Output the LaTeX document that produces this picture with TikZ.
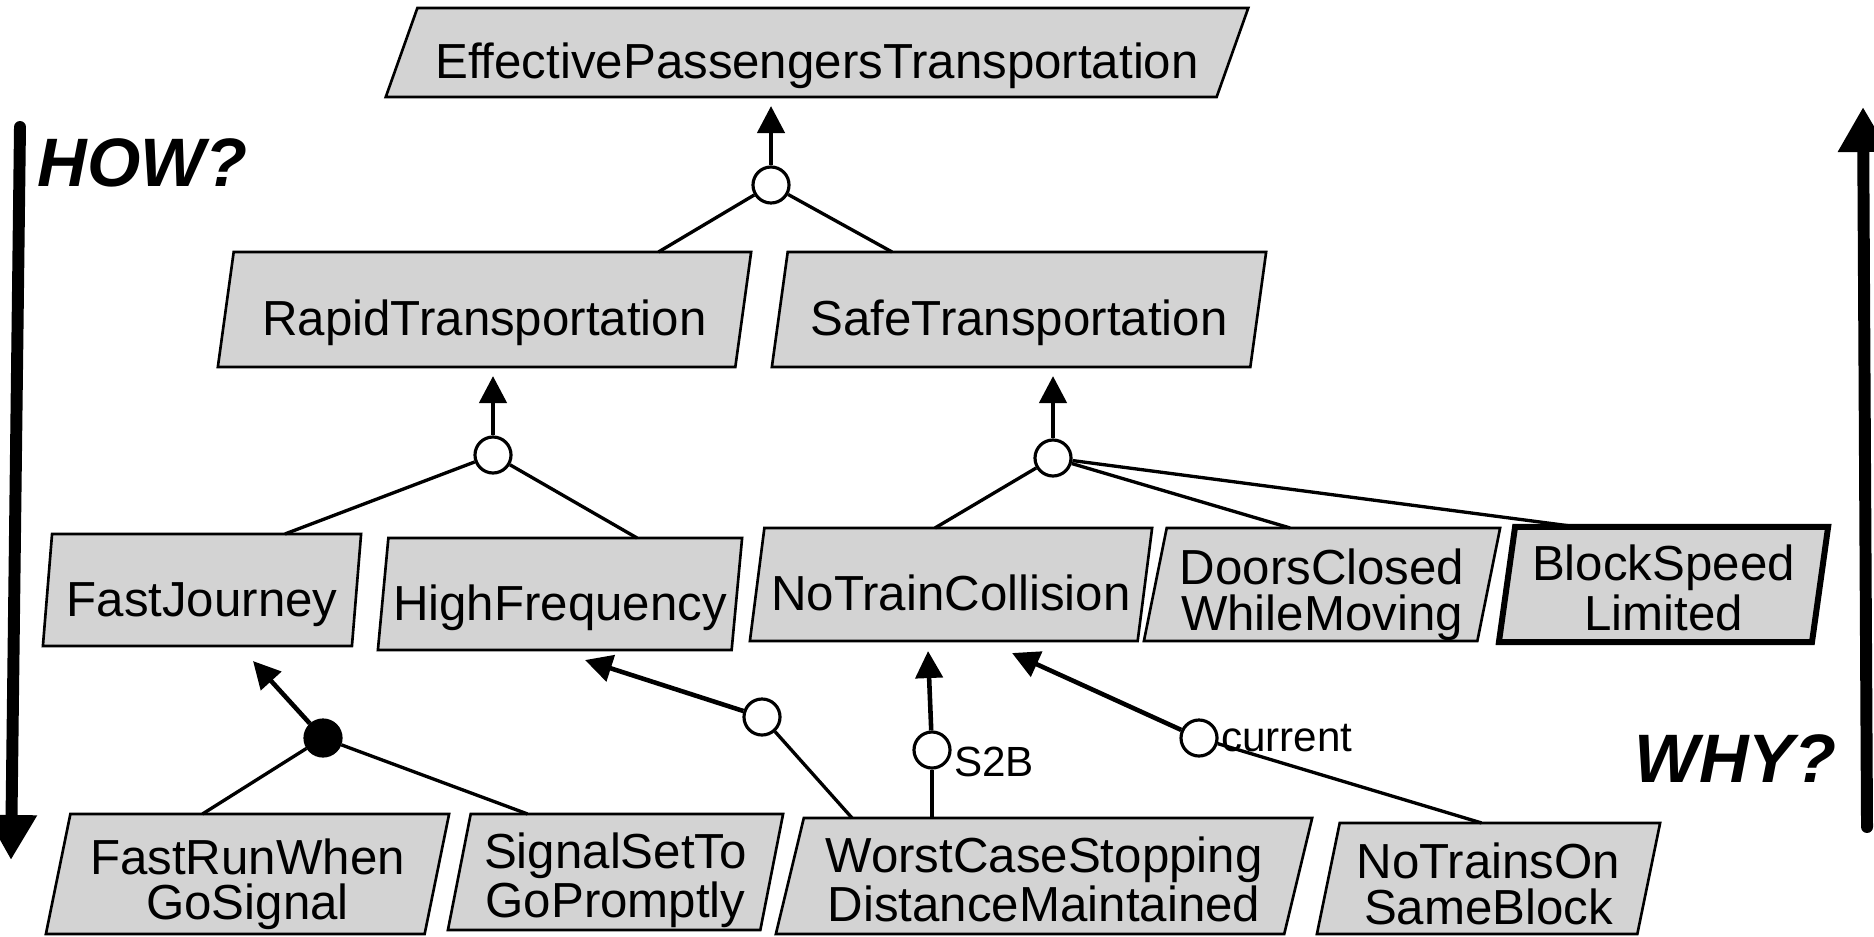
\documentclass[tikz,border=0pt]{standalone}
\usepackage{fontspec}
\setmainfont{Liberation Sans}
\usepackage{tikz}
\usetikzlibrary{arrows.meta, positioning, shapes.geometric, calc}
\usepackage{xcolor}
\definecolor{goalgray}{RGB}{211,211,211}

\begin{document}
\begin{tikzpicture}[x=0.01cm, y=-0.01cm,
   every node/.style={font=\fontsize{14}{13}\selectfont},
   goal/.style={trapezium, trapezium stretches body=true, draw, fill=goalgray,
                line width=0.75pt, inner sep=0pt, outer sep=0pt, align=center,
                text height=18pt, text depth=3.2pt},
   twolines/.style={text height=26pt, text depth=0pt},
   lean/.style={trapezium left angle=#1, trapezium right angle=180-#1},
   orgate/.style={circle, draw, fill=white, line width=0.9pt,
                  minimum size=0.36cm, inner sep=0pt},
   andgate/.style={orgate, fill=black},
   link/.style={line width=0.95pt},
   stem/.style={line width=1.3pt, -{Triangle[length=0.27cm, width=0.27cm]},
                shorten >=0.09cm},
   tag/.style={font=\fontsize{12}{12}\selectfont, inner sep=0.5pt},
   big/.style={font=\fontsize{19.5}{20}\selectfont\bfseries\itshape, inner sep=0pt},
   side/.style={line width=3.4pt, line cap=round,
                -{Triangle[length=0.45cm, width=0.48cm]}}]
  \useasboundingbox (0,0) rectangle (1874,937);
  \clip (0,0) rectangle (1874,937);

  \node[goal, lean=67, minimum width=8.62cm, minimum height=0.89cm] (EPT)
       at (817,52.5) {EffectivePassengersTransportation};
  \node[goal, lean=78, minimum width=5.33cm, minimum height=1.15cm] (RT)
       at (484.5,309.5) {RapidTransportation};
  \node[goal, lean=78, minimum width=4.94cm, minimum height=1.15cm] (ST)
       at (1019,309.5) {SafeTransportation};

  \node[goal, lean=83, minimum width=3.18cm, minimum height=1.12cm] (FJ)
       at (202,590) {FastJourney};
  \node[goal, lean=82, minimum width=3.64cm, minimum height=1.12cm] (HF)
       at (560,594) {HighFrequency};
  \node[goal, lean=79, minimum width=4.02cm, minimum height=1.13cm] (NTC)
       at (951,584.5) {NoTrainCollision};
  \node[goal, twolines, lean=76, minimum width=3.56cm, minimum height=1.13cm] (DCWM)
       at (1322,584.5) {DoorsClosed\\WhileMoving};
  \node[goal, twolines, lean=80, line width=1.7pt, minimum width=3.29cm,
        minimum height=1.15cm] (BSL)
       at (1663.5,584.5) {BlockSpeed\\Limited};

  \node[goal, twolines, lean=75, minimum width=4.03cm, minimum height=1.2cm] (FRWG)
       at (247.5,874) {FastRunWhen\\GoSignal};
  \node[goal, twolines, lean=76, minimum width=3.35cm, minimum height=1.16cm] (SSTGP)
       at (615.5,872) {SignalSetTo\\GoPromptly};
  \node[goal, twolines, lean=73, minimum width=5.36cm, minimum height=1.16cm] (WCSDM)
       at (1044,876) {WorstCaseStopping\\DistanceMaintained};
  \node[goal, twolines, lean=76, minimum width=3.43cm, minimum height=1.11cm] (NTOSB)
       at (1488.5,878.5) {NoTrainsOn\\SameBlock};

  \node[orgate] (orEPT) at (771,185) {};
  \draw[stem] (orEPT) -- (orEPT |- EPT.south);
  \draw[link] ($(RT.center |- RT.north)+(174,0)$) -- (orEPT);
  \draw[link] ($(ST.center |- ST.north)+(-127,0)$) -- (orEPT);

  \node[orgate] (orRT) at (493,455) {};
  \draw[stem] (orRT) -- (orRT |- RT.south);
  \draw[link] ($(FJ.center |- FJ.north)+(83,0)$) -- (orRT);
  \draw[link] ($(HF.center |- HF.north)+(77,0)$) -- (orRT);

  \node[orgate] (orST) at (1053,458) {};
  \draw[stem] (orST) -- (orST |- ST.south);
  \draw[link] ($(NTC.center |- NTC.north)+(-16,0)$) -- (orST);
  \draw[link] ($(DCWM.center |- DCWM.north)+(-32,0)$) -- (orST);
  \draw[link] ($(BSL.center |- BSL.north)+(-86,0)$) -- (orST);

  \node[andgate] (andFJ) at (323,738) {};
  \draw[stem, shorten >=0pt] (andFJ) -- ($(FJ.south)+(51,15)$);
  \draw[link] ($(FRWG.center |- FRWG.north)+(-45,0)$) -- (andFJ);
  \draw[link] ($(SSTGP.center |- SSTGP.north)+(-88,0)$) -- (andFJ);

  \node[orgate] (orHF) at (762,717) {};
  \draw[stem, shorten >=0pt] (orHF) -- ($(HF.south)+(25,10)$);
  \draw[link] ($(WCSDM.center |- WCSDM.north)+(-192,0)$) -- (orHF);

  \node[orgate] (s2b) at (932,750) {};
  \draw[stem, shorten >=0pt] (s2b) -- ($(NTC.south)+(-23,10)$);
  \draw[link, line width=1.3pt] ($(WCSDM.center |- WCSDM.north)+(-112,0)$) -- (s2b);
  \node[tag, anchor=west, yshift=-0.12cm] (s2bText) at (s2b.east) {S2B};

  \node[orgate] (cur) at (1199,738) {};
  \draw[stem, shorten >=0pt] (cur) -- ($(NTC.south)+(61,12)$);
  \draw[link] ($(NTOSB.center |- NTOSB.north)+(-7,0)$) -- (cur);
  \node[tag, anchor=west] (curText) at (cur.east) {current};

  \node[big, anchor=base west] (how) at (37,187) {HOW?};
  \node[big, anchor=base east] (why) at (1837,782) {WHY?};
  \coordinate (howTop) at (20,127);
  \coordinate (howEnd) at (11,860);
  \coordinate (whyBottom) at (1867,827);
  \coordinate (whyEnd) at (1863,107);
  \draw[side] (howTop) -- (howEnd);
  \draw[side] (whyBottom) -- (whyEnd);
\end{tikzpicture}
\end{document}
